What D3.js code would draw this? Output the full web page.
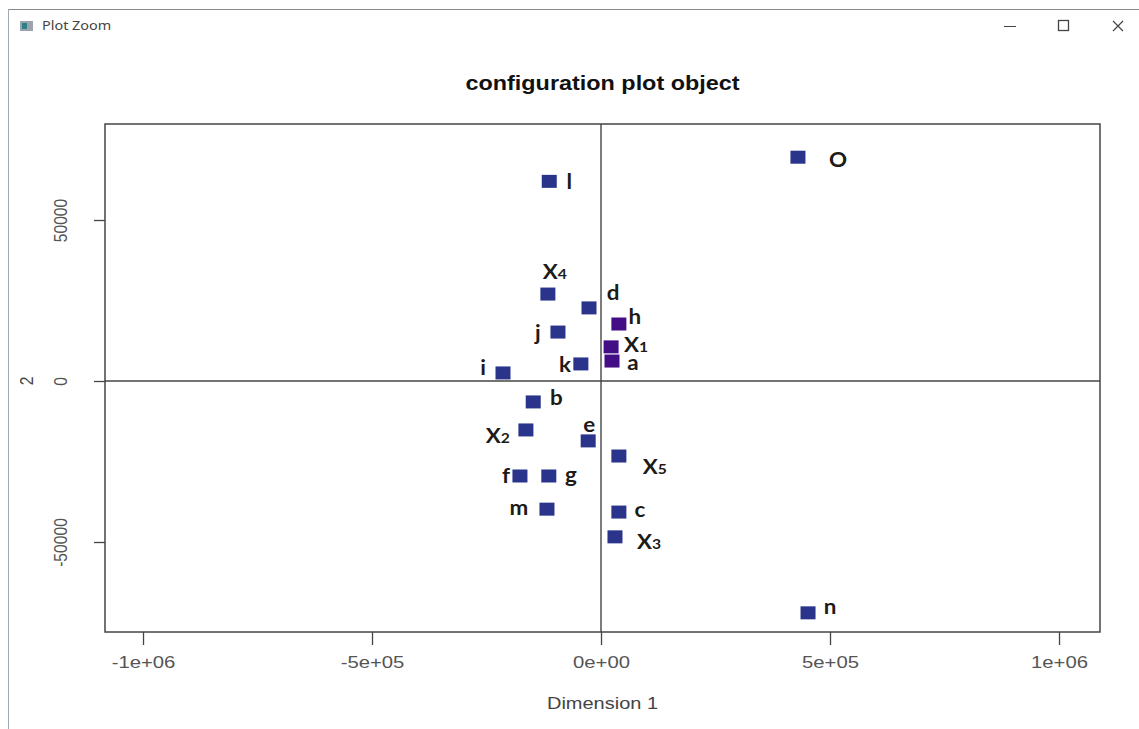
<!DOCTYPE html>
<html>
<head>
<meta charset="utf-8">
<script src="https://cdn.jsdelivr.net/npm/d3@7"></script>
<style>
  html, body { margin: 0; padding: 0; background: #fff; }
  svg { display: block; }
</style>
</head>
<body>
<div id="chart"></div>
<script>
// configuration plot values
const names = ['O', 'l', 'X4', 'd', 'h', 'j', 'X1', 'a', 'k', 'i', 'b', 'X2', 'e', 'X5', 'f', 'g', 'm', 'c', 'X3', 'n'];
const dim1 = [430000, -113000, -116000, -26200, 39000, -94000, 22000, 24000, -44000, -214000,
  -148000, -164000, -28000, 39000, -177000, -114000, -118000, 39000, 30500, 452000];
const dim2 = [69500, 62000, 27000, 22700, 17700, 15200, 10600, 6200, 5300, 2500,
  -6500, -15200, -18600, -23300, -29500, -29500, -39800, -40700, -48400, -72000];
const highlighted = ['h', 'X1', 'a'];

const xDomain = [-1083000, 1089500];
const yDomain = [-77950, 79814];
const xTicks = [-1e6, -5e5, 0, 5e5, 1e6];
const xTickLabels = ['-1e+06', '-5e+05', '0e+00', '5e+05', '1e+06'];
const yTicks = [-50000, 0, 50000];
const yTickLabels = ['-50000', '0', '50000'];

// label placement relative to each point, in px
const labelShift = [[40, 3], [20, 1], [7, -22], [24, -15], [16, -7], [-20, 1], [25, -2], [21, 2], [-16, 1], [-20, -5],
  [23, -4], [-28, 6], [1, -16], [36, 11], [-14, 0], [22, -1], [-28, -1], [21, -2], [34, 5], [22, -6]];

const W = 1139, H = 729;
const box = { left: 105, right: 1100, top: 124, bottom: 632 };
const sx = 1.3, sy = 1.08; // the screenshot is stretched sideways
const navy = '#29348a';
const purple = '#430d86';

const svg = d3.select('#chart').append('svg').attr('width', W).attr('height', H);
svg.append('rect').attr('width', W).attr('height', H).attr('fill', '#fff');

// window chrome
svg.append('line').attr('x1', 8).attr('x2', W).attr('y1', 9.5).attr('y2', 9.5).attr('stroke', '#8a8a8a');
svg.append('line').attr('x1', 8.5).attr('x2', 8.5).attr('y1', 9).attr('y2', H).attr('stroke', '#a0a8b0');
svg.append('rect').attr('x', 20).attr('y', 21).attr('width', 13).attr('height', 10).attr('fill', '#9aa4ad');
svg.append('rect').attr('x', 22).attr('y', 23).attr('width', 5).attr('height', 6).attr('fill', '#2f7f86');
svg.append('text').attr('transform', 'translate(42,30) scale(1.2,1)').attr('font-family', '"Noto Sans", sans-serif')
  .attr('font-size', 12).attr('fill', '#444').text('Plot Zoom');
svg.append('line').attr('x1', 1004).attr('x2', 1016).attr('y1', 26.5).attr('y2', 26.5).attr('stroke', '#444');
svg.append('rect').attr('x', 1058.5).attr('y', 20.5).attr('width', 10).attr('height', 10)
  .attr('fill', 'none').attr('stroke', '#444').attr('stroke-width', 1.3);
svg.append('path').attr('d', 'M1113,21L1123,31M1123,21L1113,31').attr('stroke', '#444').attr('stroke-width', 1.2);

const x = d3.scaleLinear().domain(xDomain).range([box.left, box.right]);
const y = d3.scaleLinear().domain(yDomain).range([box.bottom, box.top]);

const font = '"Liberation Sans", Arial, sans-serif';

// title
svg.append('text')
  .attr('transform', `translate(${(box.left + box.right) / 2},90) scale(${sx},${sy})`)
  .attr('text-anchor', 'middle').attr('font-family', font).attr('font-weight', 'bold')
  .attr('font-size', 18).attr('fill', '#111').text('configuration plot object');

// axes
const xAxis = svg.append('g').attr('transform', `translate(0,${box.bottom})`)
  .call(d3.axisBottom(x).tickValues(xTicks).tickSize(13).tickFormat((d, i) => xTickLabels[i]));
const yAxis = svg.append('g').attr('transform', `translate(${box.left},0)`)
  .call(d3.axisLeft(y).tickValues(yTicks).tickSize(11).tickFormat((d, i) => yTickLabels[i]));
[xAxis, yAxis].forEach((a) => {
  a.select('.domain').remove();
  a.selectAll('line').attr('stroke', '#444').attr('stroke-width', 1.3);
  a.selectAll('text').attr('font-family', font).attr('font-size', 14.5).attr('fill', '#555')
    .attr('x', null).attr('y', null).attr('dy', null);
});
xAxis.selectAll('text').attr('text-anchor', 'middle').attr('transform', `translate(0,36) scale(1.4,${sy})`);
yAxis.selectAll('text').attr('text-anchor', 'middle')
  .attr('transform', `translate(-38,0) scale(${sx},${sy}) rotate(-90)`);

svg.append('text')
  .attr('transform', `translate(${(box.left + box.right) / 2},709) scale(1.38,${sy})`)
  .attr('text-anchor', 'middle').attr('font-family', font).attr('font-size', 14.5).attr('fill', '#444')
  .text('Dimension 1');
svg.append('text')
  .attr('transform', `translate(33,${y(0)}) scale(${sx},${sy}) rotate(-90)`)
  .attr('text-anchor', 'middle').attr('font-family', font).attr('font-size', 14.5).attr('fill', '#444')
  .text('2');

// reference lines at zero
svg.append('line').attr('x1', box.left).attr('x2', box.right).attr('y1', y(0)).attr('y2', y(0))
  .attr('stroke', '#444').attr('stroke-width', 1.4);
svg.append('line').attr('x1', x(0)).attr('x2', x(0)).attr('y1', box.top).attr('y2', box.bottom)
  .attr('stroke', '#444').attr('stroke-width', 1.4);

// plot box
svg.append('rect').attr('x', box.left).attr('y', box.top)
  .attr('width', box.right - box.left).attr('height', box.bottom - box.top)
  .attr('fill', 'none').attr('stroke', '#444').attr('stroke-width', 1.5);

const pts = names.map((n, i) => ({ name: n, d1: dim1[i], d2: dim2[i], shift: labelShift[i] }));
const sqW = 15, sqH = 13;

svg.append('g').selectAll('rect').data(pts).join('rect')
  .attr('x', (d) => x(d.d1) - sqW / 2)
  .attr('y', (d) => y(d.d2) - sqH / 2)
  .attr('width', sqW).attr('height', sqH)
  .attr('fill', (d) => (highlighted.includes(d.name) ? purple : navy));

const labels = svg.append('g').selectAll('text').data(pts).join('text')
  .attr('transform', (d) => `translate(${x(d.d1) + d.shift[0]},${y(d.d2) + d.shift[1] + 7}) scale(1.12,1)`)
  .attr('text-anchor', 'middle')
  .attr('font-family', 'Lato, "Open Sans", sans-serif')
  .attr('font-weight', 'bold').attr('font-size', 20).attr('fill', '#1d1a18');
labels.each(function (d) {
  const t = d3.select(this);
  t.append('tspan').text(d.name[0]);
  if (d.name.length > 1) {
    t.append('tspan').attr('font-size', 14).text(d.name.slice(1));
  }
});
</script>
</body>
</html>
